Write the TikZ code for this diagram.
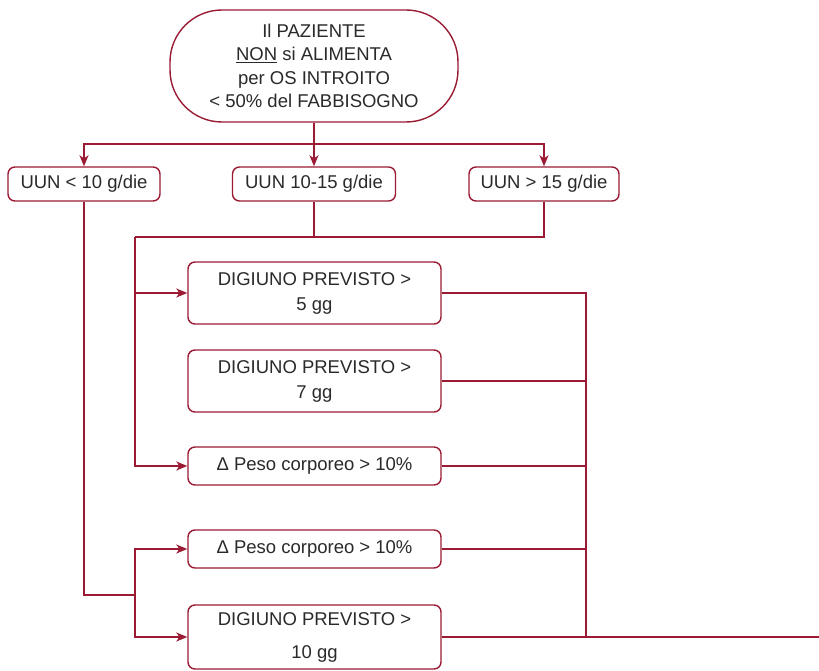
\documentclass[tikz,border=0pt]{standalone}
\usepackage{fontspec}
\setmainfont{Liberation Sans}
\usetikzlibrary{arrows.meta}
\definecolor{wine}{HTML}{9B1B35}
\definecolor{txt}{HTML}{2A2A2A}
\begin{document}
\begin{tikzpicture}[x=1pt,y=-1pt,
 line/.style={draw=wine,line width=1.4pt},
 arr/.style={line,-{Stealth[length=11pt,width=9pt,inset=3pt]}},
 box/.style={draw=wine,line width=1.4pt,rounded corners=7pt,fill=white,
   text=txt,font=\fontsize{18.5}{25}\selectfont,inner sep=0pt,align=center},
]
\fill[white] (0,0) rectangle (819,671);
\useasboundingbox (0,0) rectangle (819,671);
% nodes
\node[box,rounded corners=52pt,minimum width=288,minimum height=112,
  font=\fontsize{18.5}{23.5}\selectfont] (top) at (314,66)
  {Il PAZIENTE\\ \underline{NON} si ALIMENTA\\ per OS INTROITO\\ < 50\% del FABBISOGNO};
\node[box,minimum width=152,minimum height=34] (u1) at (84,184) {UUN < 10 g/die};
\node[box,minimum width=163,minimum height=34] (u2) at (314,184) {UUN 10-15 g/die};
\node[box,minimum width=150,minimum height=34] (u3) at (544,184) {UUN > 15 g/die};
\node[box,minimum width=253,minimum height=62] (d5) at (314.5,293) {DIGIUNO PREVISTO >\\ 5 gg};
\node[box,minimum width=253,minimum height=62] (d7) at (314.5,381) {DIGIUNO PREVISTO >\\ 7 gg};
\node[box,minimum width=253,minimum height=38] (p1) at (314.5,466) {Δ Peso corporeo > 10\%};
\node[box,minimum width=253,minimum height=38] (p2) at (314.5,549) {Δ Peso corporeo > 10\%};
\node[box,minimum width=253,minimum height=64,font=\fontsize{18.5}{33}\selectfont] (d10) at (314.5,637) {DIGIUNO PREVISTO >\\ 10 gg};
% junctions
\coordinate (bar) at (314,144);
\coordinate (mid) at (135,237);
\coordinate (low) at (135,595);
\coordinate (rv) at (586,293);
\coordinate (fin) at (819,637);
% connectors
\draw[line] (top.south) -- (bar);
\draw[arr] (bar) -| (u1.north);
\draw[arr] (bar) -| (u3.north);
\draw[arr] (bar) -- (u2.north);
\draw[line] (u2.south) |- (mid);
\draw[line] (u3.south) |- (mid);
\draw[arr] (mid) |- (d5.west);
\draw[arr] (mid) |- (p1.west);
\draw[line] (u1.south) |- (low);
\draw[arr] (low) |- (p2.west);
\draw[arr] (low) |- (d10.west);
\draw[line] (d5.east) -- (rv) -- (rv |- d10.east);
\draw[line] (d7.east) -- (d7.east -| rv);
\draw[line] (p1.east) -- (p1.east -| rv);
\draw[line] (p2.east) -- (p2.east -| rv);
\draw[line] (d10.east) -- (fin);
\end{tikzpicture}
\end{document}
